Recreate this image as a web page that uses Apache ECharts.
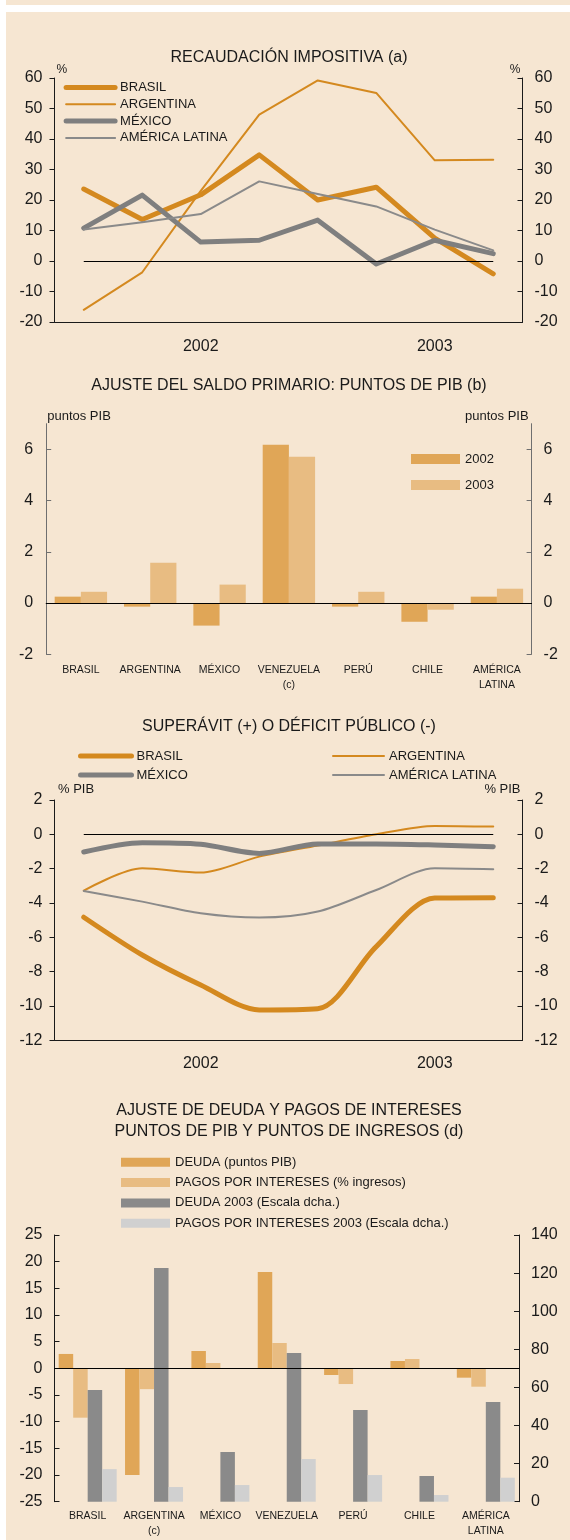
<!DOCTYPE html>
<html>
<head>
<meta charset="utf-8">
<title>Recaudación, saldo primario, déficit y deuda</title>
<script src="https://cdn.jsdelivr.net/npm/echarts@6/dist/echarts.min.js"></script>
<style>
  html, body { margin: 0; padding: 0; background: #fff; }
  body { width: 570px; height: 1540px; position: relative; overflow: hidden; }
  .strip { position: absolute; left: 6px; top: 0; width: 564px; height: 5px; background: #F6E6D2; }
  .panel { position: absolute; left: 6px; top: 12px; width: 564px; height: 1528px; background: #F6E6D2; }
  #chart { position: absolute; left: 0; top: 0; width: 570px; height: 1540px; }
</style>
</head>
<body>
<div class="strip"></div>
<div class="panel"></div>
<div id="chart"></div>
<script>
// periodos (trimestres 2002-2003) y etiquetas de año
const periods = ["I-02", "II-02", "III-02", "IV-02", "I-03", "II-03", "III-03", "IV-03"];
const yearLabels = ["", "", "2002", "", "", "", "2003", ""];

// recaudación impositiva (%)
const taxBrasil = [23.6, 13.6, 21.7, 34.8, 20.0, 24.2, 7.5, -4.2];
const taxArgentina = [-16.0, -3.7, 23.0, 48.0, 59.2, 55.1, 33.0, 33.2];
const taxMexico = [10.8, 21.6, 6.2, 6.8, 13.4, -1.0, 6.8, 2.4];
const taxAmerica = [10.3, 12.7, 15.4, 26.1, 22.0, 17.9, 10.3, 3.5];

// ajuste del saldo primario (puntos PIB)
const countriesPrimary = ["BRASIL", "ARGENTINA", "MÉXICO", "VENEZUELA\n(c)", "PERÚ", "CHILE", "AMÉRICA\nLATINA"];
const primary2002 = [0.25, -0.14, -0.88, 6.18, -0.14, -0.73, 0.25];
const primary2003 = [0.44, 1.57, 0.72, 5.71, 0.44, -0.26, 0.56];
const primaryTicks = [-2, 0, 2, 4, 6];

// superávit o déficit público (% PIB)
const balBrasil = [-4.83, -7.03, -8.78, -10.23, -10.16, -6.54, -3.71, -3.69];
const balArgentina = [-3.28, -1.98, -2.23, -1.3, -0.65, 0.0, 0.49, 0.45];
const balMexico = [-1.03, -0.49, -0.58, -1.11, -0.56, -0.56, -0.62, -0.72];
const balAmerica = [-3.3, -3.92, -4.6, -4.85, -4.5, -3.24, -1.98, -2.04];

// ajuste de deuda y pagos de intereses
const countriesDebt = ["BRASIL", "ARGENTINA\n(c)", "MÉXICO", "VENEZUELA", "PERÚ", "CHILE", "AMÉRICA\nLATINA"];
const debtChange = [2.7, -20.0, 3.25, 18.06, -1.25, 1.38, -1.75];
const interestChange = [-9.25, -3.9, 1.0, 4.75, -2.94, 1.75, -3.44];
const debt2003 = [58.6, 122.7, 26.1, 78.0, 48.1, 13.5, 52.3];
const interest2003 = [17.1, 7.7, 8.75, 22.4, 14.0, 3.5, 12.6];

const TXT = "#1a1a1a";
const ORANGE = "#D4891F";
const GREY_THICK = "#7F7F7F";
const GREY_THIN = "#8A8A8A";
const BAR_DARK = "#E0A657";
const BAR_LIGHT = "#E8BC82";
const BAR_GREY = "#8A8A8A";
const BAR_SILVER = "#D0D0D0";

// eje de valores con estilo común
function valueAxis(gridIndex, position, min, max, interval, tickInside, color, extra) {
  return Object.assign({
    type: "value",
    gridIndex: gridIndex,
    position: position,
    min: min,
    max: max,
    interval: interval,
    splitLine: { show: false },
    axisLine: { show: true, onZero: false, lineStyle: { color: color, width: 1 } },
    axisTick: { show: true, inside: tickInside, length: 5, lineStyle: { color: color } },
    axisLabel: { color: TXT, fontSize: 16, margin: 12, showMinLabel: true, showMaxLabel: true },
  }, extra || {});
}

function unitName(text, side, gap, size, pad) {
  return {
    name: text,
    nameLocation: "end",
    nameGap: gap,
    nameTextStyle: {
      color: TXT,
      fontSize: size,
      align: side,
      verticalAlign: "middle",
      padding: side === "left" ? [0, 0, 0, pad] : [0, pad, 0, 0],
    },
  };
}

function zeroLine() {
  return {
    silent: true,
    symbol: "none",
    label: { show: false },
    lineStyle: { color: "#000", width: 1, type: "solid" },
    data: [[{ coord: [periods[0], 0] }, { coord: [periods[periods.length - 1], 0] }]],
  };
}

function lineSeries(name, xi, yi, data, color, width, smooth) {
  return {
    name: name,
    type: "line",
    xAxisIndex: xi,
    yAxisIndex: yi,
    data: data,
    symbol: "none",
    smooth: smooth,
    lineStyle: { color: color, width: width, cap: "round", join: "round" },
    itemStyle: { color: color },
  };
}

function barSeries(name, xi, yi, data, color, width) {
  return {
    name: name,
    type: "bar",
    xAxisIndex: xi,
    yAxisIndex: yi,
    data: data,
    barWidth: width,
    barGap: "0%",
    itemStyle: { color: color },
  };
}

// entrada de leyenda de línea, sin símbolo
function lineKey(name, width) {
  return { name: name, lineStyle: { width: width }, itemStyle: { opacity: 0 } };
}

const chart = echarts.init(document.getElementById("chart"));

const titleStyle = { fontSize: 16, fontWeight: "normal", color: TXT, lineHeight: 16 };
const legendText = { fontSize: 13, color: TXT };

const s1 = [
  lineSeries("BRASIL", 0, 0, taxBrasil, ORANGE, 5, false),
  lineSeries("ARGENTINA", 0, 0, taxArgentina, ORANGE, 2, false),
  lineSeries("MÉXICO", 0, 0, taxMexico, GREY_THICK, 5, false),
  lineSeries("AMÉRICA LATINA", 0, 0, taxAmerica, GREY_THIN, 2, false),
];
s1[0].markLine = zeroLine();

const s3 = [
  lineSeries("BRASIL", 2, 4, balBrasil, ORANGE, 5, 0.3),
  lineSeries("ARGENTINA", 2, 4, balArgentina, ORANGE, 2, 0.3),
  lineSeries("MÉXICO", 2, 4, balMexico, GREY_THICK, 5, 0.3),
  lineSeries("AMÉRICA LATINA", 2, 4, balAmerica, GREY_THIN, 2, 0.3),
];
s3[0].markLine = zeroLine();

chart.setOption({
  animation: false,
  backgroundColor: "transparent",
  textStyle: { fontFamily: "Liberation Sans, Arial, sans-serif" },
  title: [
    { text: "RECAUDACIÓN IMPOSITIVA (a)", top: 50 },
    { text: "AJUSTE DEL SALDO PRIMARIO: PUNTOS DE PIB (b)", top: 378 },
    { text: "SUPERÁVIT (+) O DÉFICIT PÚBLICO (-)", top: 718.7 },
    {
      text: "AJUSTE DE DEUDA Y PAGOS DE INTERESES\nPUNTOS DE PIB Y PUNTOS DE INGRESOS (d)",
      top: 1100.2,
      textStyle: Object.assign({}, titleStyle, { lineHeight: 21 }),
    },
  ].map(function (t) {
    return Object.assign({ left: 289, textAlign: "center", padding: 0, textStyle: titleStyle }, t);
  }),
  legend: [
    {
      left: 63.6, top: 81, orient: "vertical", padding: 0,
      itemWidth: 49, itemHeight: 10, itemGap: 3.8, selectedMode: false, textStyle: legendText,
      data: [lineKey("BRASIL", 5), lineKey("ARGENTINA", 2), lineKey("MÉXICO", 5), lineKey("AMÉRICA LATINA", 2)],
    },
    {
      left: 411, top: 452.5, orient: "vertical", padding: 0, icon: "rect",
      itemWidth: 49, itemHeight: 10, itemGap: 13, selectedMode: false, textStyle: legendText,
      data: ["2002", "2003"],
    },
    {
      left: 78, top: 749.5, orient: "vertical", padding: 0,
      itemWidth: 51, itemHeight: 10, itemGap: 6, selectedMode: false, textStyle: legendText,
      data: [lineKey("BRASIL", 5), lineKey("MÉXICO", 5)],
    },
    {
      left: 332, top: 749.5, orient: "vertical", padding: 0,
      itemWidth: 51, itemHeight: 10, itemGap: 6, selectedMode: false, textStyle: legendText,
      data: [lineKey("ARGENTINA", 2), lineKey("AMÉRICA LATINA", 2)],
    },
    {
      left: 121, top: 1155.8, orient: "vertical", padding: 0, icon: "rect",
      itemWidth: 49, itemHeight: 9, itemGap: 7.3, selectedMode: false, textStyle: legendText,
      data: [
        "DEUDA (puntos PIB)",
        "PAGOS POR INTERESES (% ingresos)",
        "DEUDA 2003 (Escala dcha.)",
        "PAGOS POR INTERESES 2003 (Escala dcha.)",
      ],
    },
  ],
  grid: [
    { left: 54.5, top: 78, width: 468, height: 244, outerBoundsMode: "none" },
    { left: 46.2, top: 423.7, width: 485.4, height: 230.6, outerBoundsMode: "none" },
    { left: 54.5, top: 800, width: 468, height: 240.3, outerBoundsMode: "none" },
    { left: 54.5, top: 1235, width: 464.5, height: 266.7, outerBoundsMode: "none" },
  ],
  xAxis: [
    {
      type: "category", gridIndex: 0, data: periods, boundaryGap: true,
      axisLine: { onZero: false, lineStyle: { color: TXT } },
      axisTick: { inside: true, length: 5, interval: function (i) { return i === 0 || i === 4; }, lineStyle: { color: TXT } },
      axisLabel: { interval: 0, color: TXT, fontSize: 16, lineHeight: 16, margin: 17, formatter: function (v, i) { return yearLabels[i]; } },
      splitLine: { show: false },
    },
    {
      type: "category", gridIndex: 1, data: countriesPrimary, boundaryGap: true, z: 10,
      axisLine: { onZero: true, onZeroAxisIndex: 2, lineStyle: { color: "#000" } },
      axisTick: { inside: true, length: 5, interval: function (i) { return i === 0 || i === 4; }, lineStyle: { color: "#000" } },
      axisLabel: { interval: 0, color: TXT, fontSize: 10.5, lineHeight: 15, margin: 8.2 },
      splitLine: { show: false },
    },
    {
      type: "category", gridIndex: 2, data: periods, boundaryGap: true,
      axisLine: { onZero: false, lineStyle: { color: TXT } },
      axisTick: { inside: true, length: 5, interval: function (i) { return i === 0 || i === 4; }, lineStyle: { color: TXT } },
      axisLabel: { interval: 0, color: TXT, fontSize: 16, lineHeight: 16, margin: 15.7, formatter: function (v, i) { return yearLabels[i]; } },
      splitLine: { show: false },
    },
    {
      type: "category", gridIndex: 3, data: countriesDebt, boundaryGap: true, z: 10,
      axisLine: { onZero: true, onZeroAxisIndex: 6, lineStyle: { color: "#000" } },
      axisTick: { inside: false, length: 5, interval: 0, lineStyle: { color: "#000" } },
      axisLabel: { interval: 0, color: TXT, fontSize: 10.5, lineHeight: 15.5, margin: 6.5 },
      splitLine: { show: false },
    },
  ],
  yAxis: [
    valueAxis(0, "left", -20, 60, 10, false, TXT, unitName("%", "left", 8, 12, 2)),
    valueAxis(0, "right", -20, 60, 10, true, TXT, unitName("%", "right", 8, 12, 2)),
    valueAxis(1, "left", -2, 7, 2, true, "#6f6f6f", Object.assign(unitName("puntos PIB", "left", 7.7, 13, 1), {
      axisLabel: { color: TXT, fontSize: 16, margin: 13, customValues: primaryTicks },
      axisTick: { show: true, inside: true, length: 5, customValues: primaryTicks, lineStyle: { color: "#6f6f6f" } },
    })),
    valueAxis(1, "right", -2, 7, 2, true, "#6f6f6f", Object.assign(unitName("puntos PIB", "right", 7.7, 13, 3), {
      axisLabel: { color: TXT, fontSize: 16, margin: 12, customValues: primaryTicks },
      axisTick: { show: true, inside: true, length: 5, customValues: primaryTicks, lineStyle: { color: "#6f6f6f" } },
    })),
    valueAxis(2, "left", -12, 2, 2, false, TXT, unitName("% PIB", "left", 11, 13, 3.5)),
    valueAxis(2, "right", -12, 2, 2, true, TXT, unitName("% PIB", "right", 11, 13, 2)),
    valueAxis(3, "left", -25, 25, 5, true, TXT),
    valueAxis(3, "right", 0, 140, 20, true, TXT),
  ],
  series: s1.concat([
    barSeries("2002", 1, 2, primary2002, BAR_DARK, 26.2),
    barSeries("2003", 1, 2, primary2003, BAR_LIGHT, 26.2),
  ], s3, [
    barSeries("DEUDA (puntos PIB)", 3, 6, debtChange, BAR_DARK, 14.5),
    barSeries("PAGOS POR INTERESES (% ingresos)", 3, 6, interestChange, BAR_LIGHT, 14.5),
    barSeries("DEUDA 2003 (Escala dcha.)", 3, 7, debt2003, BAR_GREY, 14.5),
    barSeries("PAGOS POR INTERESES 2003 (Escala dcha.)", 3, 7, interest2003, BAR_SILVER, 14.5),
  ]),
});
</script>
</body>
</html>
